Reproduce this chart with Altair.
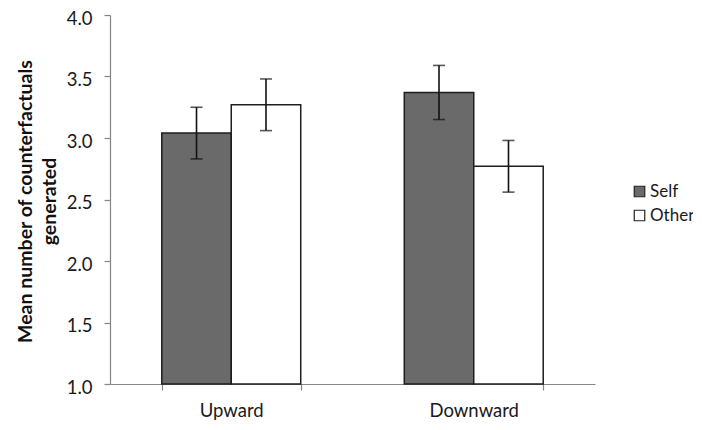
import altair as alt
import pandas as pd

groups = ["Upward", "Upward", "Downward", "Downward"]
conditions = ["Self", "Other", "Self", "Other"]
means = [3.04, 3.27, 3.37, 2.77]
lower = [2.83, 3.06, 3.15, 2.56]
upper = [3.25, 3.48, 3.59, 2.98]
y_ticks = [1.0, 1.5, 2.0, 2.5, 3.0, 3.5, 4.0]

df = pd.DataFrame({
    "group": groups,
    "condition": conditions,
    "mean": means,
    "lower": lower,
    "upper": upper,
})

FONT = "Lato"
GRAY = "#868686"
FS = 18.5

x_enc = alt.X(
    "group:N",
    sort=["Upward", "Downward"],
    scale=alt.Scale(paddingInner=0.427, paddingOuter=0.2135),
    axis=alt.Axis(
        title=None,
        labelAngle=0,
        labelFont=FONT,
        labelFontSize=FS,
        labelColor="#1a1a1a",
        labelPadding=11,
        tickBand="extent",
        tickSize=6,
        tickColor=GRAY,
        domainColor=GRAY,
        tickWidth=1.2,
        domainWidth=1.2,
    ),
)
xoff = alt.XOffset(
    "condition:N",
    sort=["Self", "Other"],
    scale=alt.Scale(domain=["Self", "Other"], paddingInner=0, paddingOuter=0),
)
y_scale = alt.Scale(domain=[1, 4], zero=False, nice=False)

bars = alt.Chart(df).mark_bar(stroke="#1e1e1e", strokeWidth=1.5).encode(
    x=x_enc,
    xOffset=xoff,
    y=alt.Y(
        "mean:Q",
        scale=y_scale,
        axis=alt.Axis(
            values=y_ticks,
            format=".1f",
            grid=False,
            title=["Mean number of counterfactuals", "generated"],
            titleFont=FONT,
            titleFontSize=19.5,
            titleFontWeight="bold",
            titleColor="#111111",
            titleAngle=-90,
            titleAlign="center",
            titleBaseline="middle",
            titleLineHeight=24,
            titleX=-85,
            titleY=186,
            labelFont=FONT,
            labelFontSize=FS,
            labelColor="#1a1a1a",
            labelPadding=12,
            labelOffset=3,
            tickSize=6,
            tickColor=GRAY,
            domainColor=GRAY,
            tickWidth=1.2,
            domainWidth=1.2,
        ),
    ),
    y2=alt.datum(1),
    fill=alt.Fill(
        "condition:N",
        scale=alt.Scale(domain=["Self", "Other"], range=["#6a6a6a", "#ffffff"]),
        legend=alt.Legend(
            title=None,
            orient="none",
            legendX=521,
            legendY=168,
            symbolType="square",
            symbolSize=110,
            symbolStrokeColor="#222222",
            symbolStrokeWidth=1.2,
            labelFont=FONT,
            labelFontSize=17,
            labelColor="#1a1a1a",
            labelOffset=2,
            labelLimit=200,
            rowPadding=6,
        ),
    ),
)

rules = alt.Chart(df).mark_rule(color="#111111", strokeWidth=1.6).encode(
    x=alt.X("group:N", sort=["Upward", "Downward"]),
    xOffset=xoff,
    y=alt.Y("lower:Q", scale=y_scale),
    y2="upper:Q",
)

caps_low = alt.Chart(df).mark_tick(color="#111111", size=12, thickness=1.6).encode(
    x=alt.X("group:N", sort=["Upward", "Downward"]),
    xOffset=xoff,
    y=alt.Y("lower:Q", scale=y_scale),
)
caps_up = alt.Chart(df).mark_tick(color="#111111", size=12, thickness=1.6).encode(
    x=alt.X("group:N", sort=["Upward", "Downward"]),
    xOffset=xoff,
    y=alt.Y("upper:Q", scale=y_scale),
)

chart = alt.layer(bars, rules, caps_low, caps_up).properties(
    width=485,
    height=369,
    autosize=alt.AutoSizeParams(type="none"),
    padding={"left": 102, "top": 7, "right": 98, "bottom": 38},
    background="#ffffff",
).configure_view(stroke=None)

chart.save("out.html", embed_options={"renderer": "svg", "actions": False})
